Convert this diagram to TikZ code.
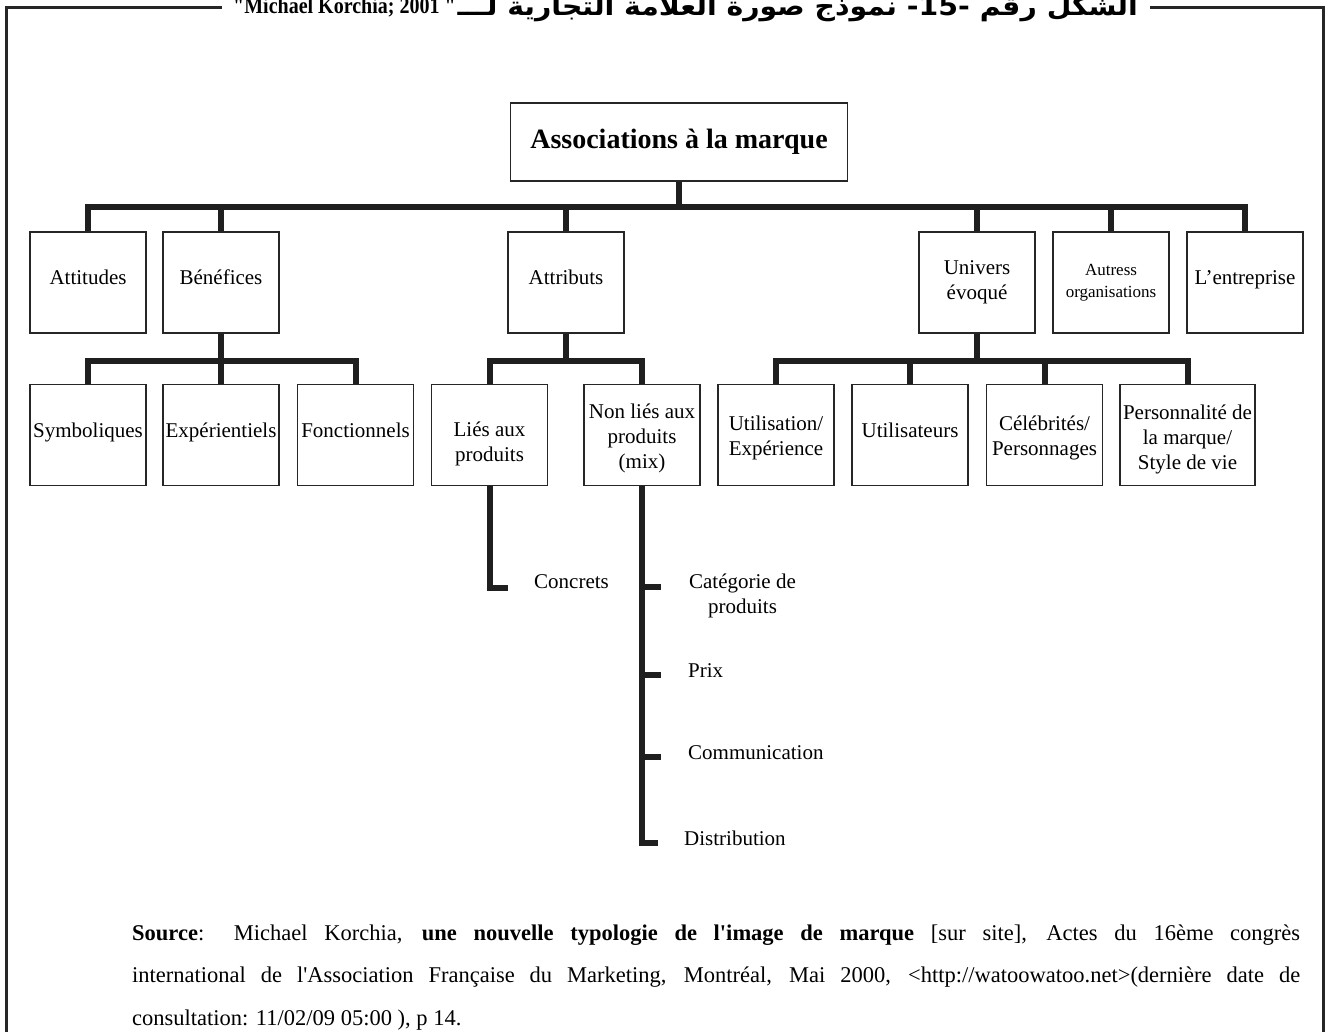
\documentclass[tikz,border=0pt]{standalone}
\usepackage{fontspec}
\usepackage{graphicx}
\setmainfont{Liberation Serif}
\newfontfamily\arabicfont[Script=Arabic]{DejaVu Sans}
\TeXXeTstate=1

\begin{document}
\begin{tikzpicture}[x=1pt,y=-1pt,
  box/.style={draw=black!85, line width=1.6pt, minimum width=116pt,
    minimum height=101pt, inner sep=1pt, align=center,
    font=\fontsize{21}{25}\selectfont},
  one/.style={text height=14pt, text depth=10pt},
  lower/.style={text depth=0pt, text height=#1},
  conn/.style={draw=black!88, line width=6pt, line join=miter},
  leaf/.style={font=\fontsize{21}{25}\selectfont, inner sep=0pt, align=center},
  frame/.style={draw=black!85, line width=3pt}]

\useasboundingbox (0,0) rectangle (1328,1032);
\clip (0,0) rectangle (1328,1032);

% caption across the top edge of the frame
\node[anchor=base west, inner sep=0pt, font=\bfseries\fontsize{23}{26}\selectfont]
  (ttlL) at (233,14) {\scalebox{0.87}[1]{\textquotedbl Michael Korchia; 2001 \textquotedbl}};
\node[anchor=base east, inner sep=0pt, font=\arabicfont\bfseries\fontsize{26}{30}\selectfont]
  (ttlA) at (1138,16) {\scalebox{1.09}[1]{\beginR الشكل رقم \beginL-15-\endL{} نموذج صورة العلامة التجارية لـــ\endR}};

% frame
\draw[frame] (222,7.5) -- (6.5,7.5) -- (6.5,1040);
\draw[frame] (1150,7.5) -- (1323,7.5) -- (1323,1040);

% root
\node[box, minimum width=337pt, minimum height=78pt,
  font=\bfseries\fontsize{28}{32}\selectfont] (root) at (679,142) {Associations à la marque};

% first level
\node[box, one] (att)  at (88,282.5)   {Attitudes};
\node[box, one] (ben)  at (221,282.5)  {Bénéfices};
\node[box, one] (attr) at (566,282.5)  {Attributs};
\node[box]      (univ) at (977,282.5)  {Univers\\évoqué};
\node[box, font=\fontsize{17}{22}\selectfont] (autr) at (1111,282.5) {Autress\\organisations};
\node[box, one] (entr) at (1245,282.5) {L’entreprise};

% second level
\node[box, one] (sym)   at (88,435)     {Symboliques};
\node[box, one] (exp)   at (221,435)    {Expérientiels};
\node[box, one] (fon)   at (355.5,435)  {Fonctionnels};
\node[box, lower=52pt] (lies)  at (489.5,435)  {Liés aux\\produits};
\node[box, lower=66pt] (nonl)  at (642,435)    {Non liés aux\\produits\\(mix)};
\node[box, lower=40pt] (util)  at (776,435)    {Utilisation/\\Expérience};
\node[box, one] (users) at (910,435)    {Utilisateurs};
\node[box, lower=40pt] (celeb) at (1044.5,435) {Célébrités/\\Personnages};
\node[box, lower=68pt, minimum width=135pt] (perso) at (1187.5,435) {Personnalité de\\la marque/\\Style de vie};

% buses
\coordinate (bus1) at (0,207);
\coordinate (bus2) at (0,361);
\foreach \c in {att,ben,attr,univ,autr,entr}
  \draw[conn] (root.south) -- (root.south |- bus1) -| (\c.north);
\foreach \c in {sym,fon}
  \draw[conn] (ben.south) -- (ben.south |- bus2) -| (\c.north);
\draw[conn] (ben.south) -- (exp.north);
\foreach \c in {lies,nonl}
  \draw[conn] (attr.south) -- (attr.south |- bus2) -| (\c.north);
\foreach \c in {util,users,celeb,perso}
  \draw[conn] (univ.south) -- (univ.south |- bus2) -| (\c.north);

% leaves of the attributes
\node[leaf, anchor=base west] (conc) at (534,588) {Concrets};
\node[leaf, anchor=base] (cat) at (742.5,613.5) {Catégorie de\\produits};
\node[leaf, anchor=base west] (prix) at (688,677) {Prix};
\node[leaf, anchor=base west] (comm) at (688,759) {Communication};
\node[leaf, anchor=base west] (dist) at (684,845) {Distribution};

\coordinate (tConc) at (508,587.5);
\coordinate (tCat)  at (661,587);
\coordinate (tPrix) at (661,675);
\coordinate (tComm) at (661,757);
\coordinate (tDist) at (658,843);
\draw[conn] (lies.south) |- (tConc);
\draw[conn] (nonl.south) |- (tDist);
\foreach \t in {tCat,tPrix,tComm}
  \draw[conn] (nonl.south |- \t) -- (\t);

% source note
\node[anchor=base west, inner sep=0pt, text width=1168pt, align=justify,
  font=\fontsize{22.5}{42.5}\selectfont] (src) at (132,940)
  {\textbf{Source}: Michael Korchia, \textbf{une nouvelle typologie de l\textquotesingle image de marque} [sur site], Actes du 16ème congrès\linebreak
   international de l\textquotesingle Association Française du Marketing, Montréal, Mai 2000, <http://watoowatoo.net>(dernière date de\linebreak
   consultation: 11/02/09 05:00 ), p 14.};
\end{tikzpicture}
\end{document}
